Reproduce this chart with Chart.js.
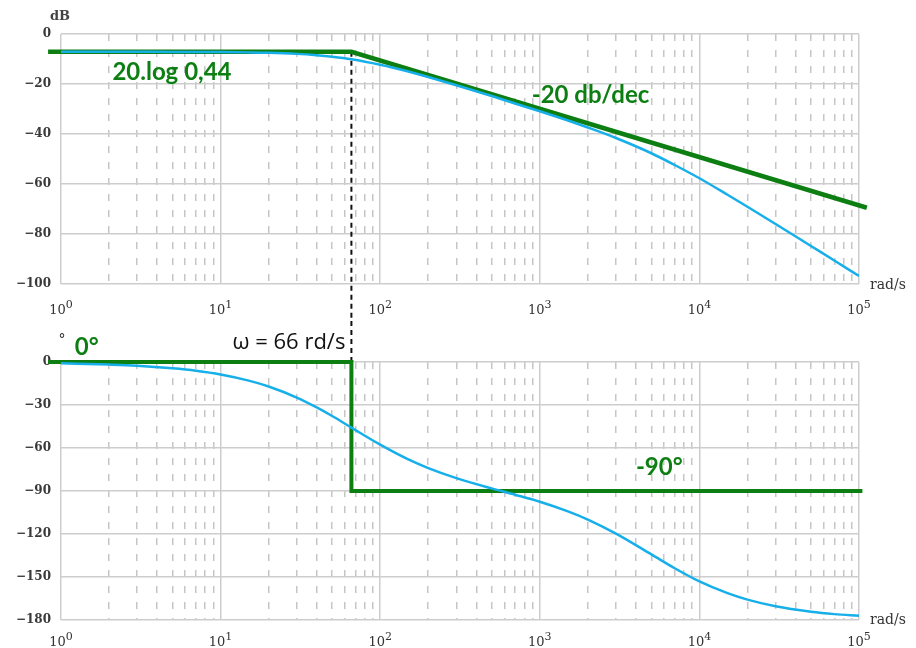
<!DOCTYPE html>
<html>
<head>
<meta charset="utf-8">
<script src="https://cdn.jsdelivr.net/npm/chart.js@4.4.0/dist/chart.umd.min.js"></script>
<style>
  html, body { margin: 0; padding: 0; background: #fff; }
  #wrap { position: relative; width: 916px; height: 648px; }
  .box { position: absolute; left: 0; width: 916px; }
  #gain-box { top: 0; height: 320px; }
  #phase-box { top: 320px; height: 328px; }
</style>
</head>
<body>
<div id="wrap">
  <div class="box" id="gain-box"><canvas id="gain-chart" width="916" height="320"></canvas></div>
  <div class="box" id="phase-box"><canvas id="phase-chart" width="916" height="328"></canvas></div>
</div>
<script>
const omega = [1, 2, 3, 5, 7, 10, 15, 20, 30, 40, 50, 66, 100, 150, 200, 300, 500, 700, 1000, 1500, 2000, 3000, 5000, 7000, 10000, 15000, 20000, 30000, 50000, 70000, 100000];
// Real gain (dB)
const gainDb = [-7.13, -7.13, -7.14, -7.15, -7.18, -7.23, -7.35, -7.5, -7.95, -8.5, -9.1, -10.1, -12.3, -15.0, -17.2, -20.5, -24.8, -27.8, -30.9, -34.6, -37.4, -41.6, -47.7, -52.4, -57.7, -64.3, -69.1, -76.0, -84.8, -90.6, -96.8];
// Real phase (degrees)
const phaseDeg = [-0.9, -1.8, -2.6, -4.4, -6.1, -8.7, -13.0, -17.1, -24.8, -31.7, -37.7, -45.8, -57.7, -68.0, -74.0, -81.0, -88.2, -92.6, -97.5, -104.2, -109.9, -119.7, -134.2, -143.9, -153.1, -161.3, -165.8, -170.4, -174.2, -175.9, -177.1];

// Asymptotic approximation
const gainAsymW = [0.83, 66, 112000];
const gainAsymDb = [-7.13, -7.13, -69.5];
const phaseAsymW = [0.83, 66, 66, 105000];
const phaseAsymDeg = [0, 0, -90, -90];

const cornerW = 66;

// Axes
const decades = [1, 10, 100, 1000, 10000, 100000];
const xTickBase = '10';
const xTickExp = ['0', '1', '2', '3', '4', '5'];
const minorSteps = [2, 3, 4, 5, 6, 7, 8, 9];
const gainTicks = [0, -20, -40, -60, -80, -100];
const phaseTicks = [0, -30, -60, -90, -120, -150, -180];

const minorTicks = decades.slice(0, -1).flatMap(d => minorSteps.map(m => m * d));

const GREEN = '#0d7f12';
const BLUE = '#17afea';
const GRID = '#cdcdcd';

const toPoints = (xs, ys) => xs.map((x, i) => ({ x: x, y: ys[i] }));
const minus = v => String(v).replace('-', '\u2212');

// text labels anchored on data values, and the 10^n tick labels
const annotate = {
  id: 'annotate',
  afterDatasetsDraw(chart, args, opts) {
    const ctx = chart.ctx;
    const xs = chart.scales.x;
    ctx.save();
    ctx.textBaseline = 'middle';
    (opts.texts || []).forEach(t => {
      ctx.font = t.font;
      ctx.fillStyle = t.color;
      ctx.textAlign = t.align || 'left';
      const px = xs.getPixelForValue(t.x) + (t.dx || 0);
      const py = chart.scales.y.getPixelForValue(t.y) + (t.dy || 0);
      ctx.fillText(t.text, px, py);
    });

    // power-of-ten labels with a raised exponent
    ctx.textBaseline = 'alphabetic';
    ctx.textAlign = 'left';
    ctx.fillStyle = '#333';
    const baseY = chart.chartArea.bottom + opts.labelDrop;
    decades.forEach((d, i) => {
      ctx.font = '13px "DejaVu Serif"';
      const w1 = ctx.measureText(xTickBase).width;
      ctx.font = '11px "DejaVu Serif"';
      const w2 = ctx.measureText(xTickExp[i]).width;
      const left = xs.getPixelForValue(d) - (w1 + w2) / 2;
      ctx.font = '13px "DejaVu Serif"';
      ctx.fillText(xTickBase, left, baseY);
      ctx.font = '11px "DejaVu Serif"';
      ctx.fillText(xTickExp[i], left + w1, baseY - 6);
    });
    ctx.restore();
  }
};

function xScales(axisHeight) {
  return {
    x: {
      type: 'logarithmic', min: 1, max: 100000, position: 'bottom',
      afterBuildTicks: s => { s.ticks = decades.map(v => ({ value: v })); },
      afterFit: s => { s.height = axisHeight; },
      ticks: { display: false },
      grid: { color: GRID, lineWidth: 1.5, drawTicks: false },
      border: { display: false }
    },
    xm: {
      type: 'logarithmic', min: 1, max: 100000, position: 'bottom',
      afterBuildTicks: s => { s.ticks = minorTicks.map(v => ({ value: v })); },
      afterFit: s => { s.height = 0; },
      ticks: { display: false },
      grid: { color: '#c6c6c6', lineWidth: 1.5, drawTicks: false },
      border: { display: false, dash: [7, 9] }
    }
  };
}

function yScale(min, ticks) {
  return {
    min: min, max: 0,
    afterBuildTicks: s => { s.ticks = ticks.map(v => ({ value: v })); },
    afterFit: s => { s.width = 61; },
    ticks: {
      callback: v => minus(v), padding: 10, color: '#3a3a3a',
      font: { family: 'DejaVu Serif', size: 12, weight: 'bold' }
    },
    grid: { color: GRID, lineWidth: 1.5, drawTicks: false },
    border: { display: false }
  };
}

const baseOptions = {
  responsive: false,
  animation: false,
  events: [],
  plugins: { legend: { display: false }, tooltip: { enabled: false } }
};

const labelFont = 'bold 24px Lato';
const unitFont = '14px "DejaVu Serif"';

// Gain chart
new Chart(document.getElementById('gain-chart'), {
  type: 'line',
  data: {
    datasets: [
      {
        data: toPoints(omega, gainDb), borderColor: BLUE, borderWidth: 2.5,
        pointRadius: 0, cubicInterpolationMode: 'monotone'
      },
      {
        data: toPoints(gainAsymW, gainAsymDb), borderColor: GREEN, borderWidth: 4.5,
        pointRadius: 0, tension: 0, clip: false
      },
      {
        data: toPoints([cornerW, cornerW], [-7.13, -160]), borderColor: '#111', borderWidth: 2,
        borderDash: [5, 4], pointRadius: 0, clip: false
      }
    ]
  },
  options: Object.assign({}, baseOptions, {
    layout: { padding: { top: 34, right: 57, left: 0, bottom: 0 } },
    scales: Object.assign(xScales(36), { y: yScale(-100, gainTicks) }),
    plugins: Object.assign({}, baseOptions.plugins, {
      annotate: {
        labelDrop: 30,
        texts: [
          { text: '20.log 0,44', x: 2.1, y: -15.2, font: labelFont, color: GREEN },
          { text: '-20 db/dec', x: 890, y: -24.4, font: labelFont, color: GREEN },
          { text: 'dB', x: 1, y: 0, dx: -1, dy: -17, align: 'center', font: 'bold 13px "DejaVu Serif"', color: '#444' },
          { text: 'rad/s', x: 100000, y: -100, dx: 11, dy: 1, font: unitFont, color: '#333' }
        ]
      }
    })
  }),
  plugins: [annotate]
});

// Phase chart
new Chart(document.getElementById('phase-chart'), {
  type: 'line',
  data: {
    datasets: [
      {
        data: toPoints(omega, phaseDeg), borderColor: BLUE, borderWidth: 2.5,
        pointRadius: 0, cubicInterpolationMode: 'monotone'
      },
      {
        data: toPoints(phaseAsymW, phaseAsymDeg), borderColor: GREEN, borderWidth: 4,
        pointRadius: 0, tension: 0, clip: false
      },
      {
        data: toPoints([cornerW, cornerW], [0, 80]), borderColor: '#111', borderWidth: 2,
        borderDash: [5, 4], pointRadius: 0, clip: false
      }
    ]
  },
  options: Object.assign({}, baseOptions, {
    layout: { padding: { top: 42, right: 57, left: 0, bottom: 0 } },
    scales: Object.assign(xScales(28), { y: yScale(-180, phaseTicks) }),
    plugins: Object.assign({}, baseOptions.plugins, {
      annotate: {
        labelDrop: 26,
        texts: [
          { text: 'ω = 66 rd/s', x: cornerW, y: 13.3, dx: -6, align: 'right', font: '22px "Open Sans"', color: '#111' },
          { text: '0°', x: 1.22, y: 10.5, font: labelFont, color: GREEN },
          { text: '-90°', x: 4000, y: -73.3, font: labelFont, color: GREEN },
          { text: '°', x: 1, y: 15.3, dx: 1, align: 'center', font: '14px "DejaVu Serif"', color: '#333' },
          { text: 'rad/s', x: 100000, y: -180, dx: 11, font: unitFont, color: '#333' }
        ]
      }
    })
  }),
  plugins: [annotate]
});
</script>
</body>
</html>
